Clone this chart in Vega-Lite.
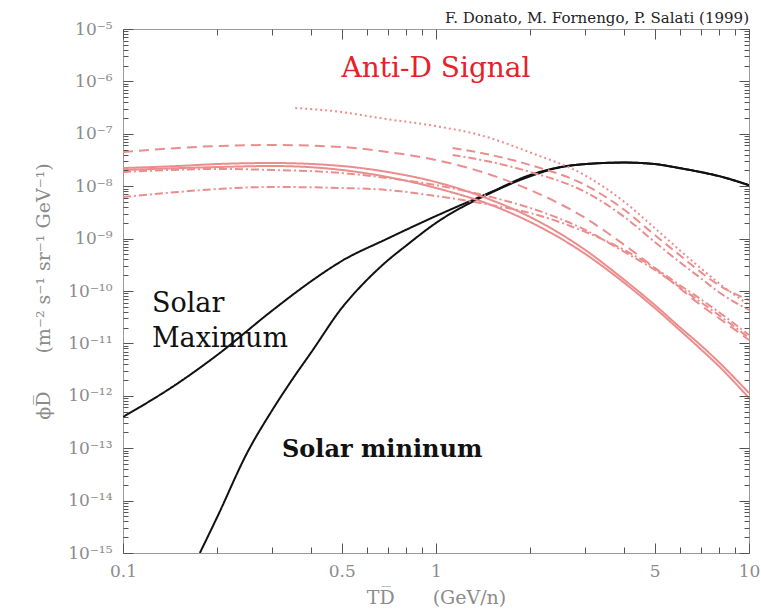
{
  "$schema": "https://vega.github.io/schema/vega-lite/v6.json",
  "width": 626,
  "height": 524,
  "autosize": {"type": "none"},
  "padding": {"left": 123, "top": 29, "right": 12, "bottom": 57},
  "background": "white",
  "config": {"view": {"stroke": "#9a9a9a", "strokeWidth": 1}, "axis": {"ticks": true, "tickColor": "#555555", "tickOpacity": 1, "tickWidth": 1}},
  "title": {"text": "F. Donato, M. Fornengo, P. Salati (1999)", "anchor": "end", "frame": "group", "font": "DejaVu Serif", "fontSize": 15, "fontWeight": "normal", "color": "#222222", "offset": 3, "dy": 9},
  "datasets": {
    "curves": [
      {"s": "max", "T": 0.1, "phi": 3.94e-13}, {"s": "max", "T": 0.15, "phi": 1.75e-12}, {"s": "max", "T": 0.2, "phi": 6.01e-12}, {"s": "max", "T": 0.3, "phi": 4.25e-11}, {"s": "max", "T": 0.4, "phi": 1.55e-10}, {"s": "max", "T": 0.5, "phi": 3.74e-10}, {"s": "max", "T": 0.7, "phi": 1.0e-9}, {"s": "max", "T": 1, "phi": 2.7e-9}, {"s": "max", "T": 1.5, "phi": 7.75e-9}, {"s": "max", "T": 2, "phi": 1.64e-8}, {"s": "max", "T": 2.5, "phi": 2.32e-8}, {"s": "max", "T": 3, "phi": 2.65e-8}, {"s": "max", "T": 4, "phi": 2.83e-8}, {"s": "max", "T": 5, "phi": 2.65e-8}, {"s": "max", "T": 6, "phi": 2.22e-8}, {"s": "max", "T": 7, "phi": 1.87e-8}, {"s": "max", "T": 8, "phi": 1.57e-8}, {"s": "max", "T": 10, "phi": 1.05e-8},
      {"s": "min", "T": 0.176, "phi": 1e-15}, {"s": "min", "T": 0.2, "phi": 4.86e-15}, {"s": "min", "T": 0.25, "phi": 8.45e-14}, {"s": "min", "T": 0.3, "phi": 5.36e-13}, {"s": "min", "T": 0.35, "phi": 2.19e-12}, {"s": "min", "T": 0.4, "phi": 6.85e-12}, {"s": "min", "T": 0.5, "phi": 4.74e-11}, {"s": "min", "T": 0.6, "phi": 1.6e-10}, {"s": "min", "T": 0.7, "phi": 3.8e-10}, {"s": "min", "T": 0.8, "phi": 7.22e-10}, {"s": "min", "T": 1, "phi": 1.99e-9}, {"s": "min", "T": 1.5, "phi": 7.5e-9}, {"s": "min", "T": 2, "phi": 1.55e-8}, {"s": "min", "T": 2.5, "phi": 2.3e-8}, {"s": "min", "T": 3, "phi": 2.64e-8}, {"s": "min", "T": 4, "phi": 2.82e-8}, {"s": "min", "T": 5, "phi": 2.64e-8}, {"s": "min", "T": 6, "phi": 2.21e-8}, {"s": "min", "T": 7, "phi": 1.86e-8}, {"s": "min", "T": 8, "phi": 1.56e-8}, {"s": "min", "T": 10, "phi": 1.04e-8},
      {"s": "A", "T": 0.1, "phi": 4.5e-8}, {"s": "A", "T": 0.15, "phi": 5.36e-8}, {"s": "A", "T": 0.2, "phi": 5.85e-8}, {"s": "A", "T": 0.3, "phi": 6.11e-8}, {"s": "A", "T": 0.5, "phi": 5.6e-8}, {"s": "A", "T": 0.7, "phi": 4.5e-8}, {"s": "A", "T": 1, "phi": 3.16e-8}, {"s": "A", "T": 1.5, "phi": 1.64e-8}, {"s": "A", "T": 2, "phi": 8.46e-9}, {"s": "A", "T": 3, "phi": 2.47e-9}, {"s": "A", "T": 4, "phi": 7.55e-10}, {"s": "A", "T": 5, "phi": 2.75e-10}, {"s": "A", "T": 6, "phi": 1.14e-10}, {"s": "A", "T": 7, "phi": 5.41e-11}, {"s": "A", "T": 8, "phi": 3.05e-11}, {"s": "A", "T": 10, "phi": 1.16e-11},
      {"s": "B", "T": 0.1, "phi": 2.22e-8}, {"s": "B", "T": 0.15, "phi": 2.43e-8}, {"s": "B", "T": 0.2, "phi": 2.65e-8}, {"s": "B", "T": 0.3, "phi": 2.77e-8}, {"s": "B", "T": 0.5, "phi": 2.43e-8}, {"s": "B", "T": 0.7, "phi": 1.87e-8}, {"s": "B", "T": 1, "phi": 1.2e-8}, {"s": "B", "T": 1.5, "phi": 5.46e-9}, {"s": "B", "T": 2, "phi": 2.58e-9}, {"s": "B", "T": 3, "phi": 6.05e-10}, {"s": "B", "T": 4, "phi": 1.62e-10}, {"s": "B", "T": 5, "phi": 5.41e-11}, {"s": "B", "T": 6, "phi": 2.06e-11}, {"s": "B", "T": 7, "phi": 9.31e-12}, {"s": "B", "T": 8, "phi": 4.42e-12}, {"s": "B", "T": 10, "phi": 1.13e-12},
      {"s": "C", "T": 0.1, "phi": 2.04e-8}, {"s": "C", "T": 0.2, "phi": 2.32e-8}, {"s": "C", "T": 0.3, "phi": 2.43e-8}, {"s": "C", "T": 0.5, "phi": 2.04e-8}, {"s": "C", "T": 0.7, "phi": 1.5e-8}, {"s": "C", "T": 1, "phi": 9.24e-9}, {"s": "C", "T": 1.5, "phi": 4.38e-9}, {"s": "C", "T": 2, "phi": 2.07e-9}, {"s": "C", "T": 3, "phi": 5.08e-10}, {"s": "C", "T": 4, "phi": 1.42e-10}, {"s": "C", "T": 5, "phi": 4.74e-11}, {"s": "C", "T": 6, "phi": 1.8e-11}, {"s": "C", "T": 7, "phi": 7.82e-12}, {"s": "C", "T": 8, "phi": 3.71e-12}, {"s": "C", "T": 10, "phi": 9.08e-13},
      {"s": "D", "T": 0.1, "phi": 1.87e-8}, {"s": "D", "T": 0.2, "phi": 2.13e-8}, {"s": "D", "T": 0.3, "phi": 2.04e-8}, {"s": "D", "T": 0.5, "phi": 1.79e-8}, {"s": "D", "T": 0.7, "phi": 1.43e-8}, {"s": "D", "T": 1, "phi": 1.05e-8}, {"s": "D", "T": 1.5, "phi": 6.22e-9}, {"s": "D", "T": 2, "phi": 3.84e-9}, {"s": "D", "T": 3, "phi": 1.46e-9}, {"s": "D", "T": 4, "phi": 5.55e-10}, {"s": "D", "T": 5, "phi": 2.52e-10}, {"s": "D", "T": 6, "phi": 1.19e-10}, {"s": "D", "T": 7, "phi": 6.17e-11}, {"s": "D", "T": 8, "phi": 3.48e-11}, {"s": "D", "T": 10, "phi": 1.27e-11},
      {"s": "E", "T": 0.1, "phi": 6.22e-9}, {"s": "E", "T": 0.15, "phi": 7.75e-9}, {"s": "E", "T": 0.2, "phi": 8.85e-9}, {"s": "E", "T": 0.3, "phi": 9.66e-9}, {"s": "E", "T": 0.5, "phi": 9.24e-9}, {"s": "E", "T": 0.7, "phi": 8.46e-9}, {"s": "E", "T": 1, "phi": 6.5e-9}, {"s": "E", "T": 1.5, "phi": 4.38e-9}, {"s": "E", "T": 2, "phi": 3.08e-9}, {"s": "E", "T": 3, "phi": 1.34e-9}, {"s": "E", "T": 4, "phi": 6.05e-10}, {"s": "E", "T": 5, "phi": 2.75e-10}, {"s": "E", "T": 6, "phi": 1.3e-10}, {"s": "E", "T": 7, "phi": 7.03e-11}, {"s": "E", "T": 8, "phi": 3.97e-11}, {"s": "E", "T": 10, "phi": 1.45e-11},
      {"s": "F", "T": 0.355, "phi": 3.1e-7}, {"s": "F", "T": 0.5, "phi": 2.61e-7}, {"s": "F", "T": 0.66, "phi": 2.0e-7}, {"s": "F", "T": 1, "phi": 1.4e-7}, {"s": "F", "T": 1.38, "phi": 9.5e-8}, {"s": "F", "T": 2, "phi": 4.4e-8}, {"s": "F", "T": 3, "phi": 1.6e-8}, {"s": "F", "T": 4, "phi": 5.0e-9}, {"s": "F", "T": 5, "phi": 1.59e-9}, {"s": "F", "T": 6, "phi": 6.05e-10}, {"s": "F", "T": 7, "phi": 2.75e-10}, {"s": "F", "T": 8, "phi": 1.42e-10}, {"s": "F", "T": 10, "phi": 5.41e-11},
      {"s": "G", "T": 1.13, "phi": 5.36e-8}, {"s": "G", "T": 1.5, "phi": 3.94e-8}, {"s": "G", "T": 2, "phi": 2.54e-8}, {"s": "G", "T": 3, "phi": 1.05e-8}, {"s": "G", "T": 4, "phi": 3.52e-9}, {"s": "G", "T": 5, "phi": 1.17e-9}, {"s": "G", "T": 6, "phi": 4.86e-10}, {"s": "G", "T": 7, "phi": 2.31e-10}, {"s": "G", "T": 8, "phi": 1.3e-10}, {"s": "G", "T": 10, "phi": 6.73e-11},
      {"s": "H", "T": 1.13, "phi": 3.94e-8}, {"s": "H", "T": 1.5, "phi": 2.9e-8}, {"s": "H", "T": 2, "phi": 1.87e-8}, {"s": "H", "T": 3, "phi": 7.75e-9}, {"s": "H", "T": 4, "phi": 2.58e-9}, {"s": "H", "T": 5, "phi": 8.61e-10}, {"s": "H", "T": 6, "phi": 3.57e-10}, {"s": "H", "T": 7, "phi": 1.77e-10}, {"s": "H", "T": 8, "phi": 9.57e-11}, {"s": "H", "T": 10, "phi": 4.34e-11}
    ]
  },
  "layer": [
    {
      "encoding": {
        "x": {
          "field": "T", "type": "quantitative",
          "scale": {"type": "log", "domain": [0.1, 10], "nice": false},
          "axis": {
            "orient": "bottom", "zindex": 2, "ticks": true,
            "values": [0.1, 0.2, 0.3, 0.4, 0.5, 0.6, 0.7, 0.8, 0.9, 1, 2, 3, 4, 5, 6, 7, 8, 9, 10],
            "labelExpr": "indexof([0.1, 0.5, 1, 5, 10], datum.value) >= 0 ? format(datum.value, '~g') : ''",
            "tickSize": {"condition": {"test": "indexof([0.1, 0.5, 1, 5, 10], datum.value) >= 0", "value": -10}, "value": -6},
            "tickColor": "#555555", "tickWidth": 1, "tickOpacity": 1, "domain": false, "grid": false,
            "labelPadding": 20, "labelFont": "DejaVu Serif", "labelFontSize": 17, "labelColor": "#8c8c8c",
            "labelOverlap": false, "labelBound": false, "labelFlush": false,
            "title": "TD̅\u2003\u2003(GeV/n)", "titleFont": "DejaVu Serif", "titleFontSize": 19, "titleFontWeight": "normal", "titleColor": "#8c8c8c", "titlePadding": 5
          }
        },
        "y": {
          "field": "phi", "type": "quantitative",
          "scale": {"type": "log", "domain": [1e-15, 1e-5], "nice": false},
          "axis": {
            "orient": "left", "zindex": 2, "ticks": true,
            "values": [1e-15, 2e-15, 3e-15, 4e-15, 5e-15, 6e-15, 7e-15, 8e-15, 9e-15, 1e-14, 2e-14, 3e-14, 4e-14, 5e-14, 6e-14, 7e-14, 8e-14, 9e-14, 1e-13, 2e-13, 3e-13, 4e-13, 5e-13, 6e-13, 7e-13, 8e-13, 9e-13, 1e-12, 2e-12, 3e-12, 4e-12, 5e-12, 6e-12, 7e-12, 8e-12, 9e-12, 1e-11, 2e-11, 3e-11, 4e-11, 5e-11, 6e-11, 7e-11, 8e-11, 9e-11, 1e-10, 2e-10, 3e-10, 4e-10, 5e-10, 6e-10, 7e-10, 8e-10, 9e-10, 1e-9, 2e-9, 3e-9, 4e-9, 5e-9, 6e-9, 7e-9, 8e-9, 9e-9, 1e-8, 2e-8, 3e-8, 4e-8, 5e-8, 6e-8, 7e-8, 8e-8, 9e-8, 1e-7, 2e-7, 3e-7, 4e-7, 5e-7, 6e-7, 7e-7, 8e-7, 9e-7, 1e-6, 2e-6, 3e-6, 4e-6, 5e-6, 6e-6, 7e-6, 8e-6, 9e-6, 1e-5],
            "labelExpr": "abs(log(datum.value)/LN10 - round(log(datum.value)/LN10)) < 0.01 ? ['10⁻⁵','10⁻⁶','10⁻⁷','10⁻⁸','10⁻⁹','10⁻¹⁰','10⁻¹¹','10⁻¹²','10⁻¹³','10⁻¹⁴','10⁻¹⁵'][round(-log(datum.value)/LN10) - 5] : ''",
            "tickSize": {"condition": {"test": "abs(log(datum.value)/LN10 - round(log(datum.value)/LN10)) < 0.01", "value": -10}, "value": -5},
            "tickColor": "#555555", "tickWidth": 1, "tickOpacity": 1, "domain": false, "grid": false,
            "labelPadding": 21, "labelFont": "DejaVu Serif", "labelFontSize": 17, "labelColor": "#8c8c8c",
            "labelOverlap": false, "labelBound": false, "labelFlush": false,
            "title": "ϕD̅\u2003\u2003(m⁻² s⁻¹ sr⁻¹ GeV⁻¹)", "titleFont": "DejaVu Serif", "titleFontSize": 19, "titleFontWeight": "normal", "titleColor": "#8c8c8c", "titlePadding": 14
          }
        }
      },
      "layer": [
        {
          "data": {"name": "curves"},
          "mark": {"type": "line", "clip": true, "interpolate": "monotone"},
          "encoding": {
            "detail": {"field": "s", "type": "nominal"},
            "color": {"field": "s", "type": "nominal", "legend": null,
              "scale": {"domain": ["max", "min", "A", "B", "C", "D", "E", "F", "G", "H"], "range": ["#111111", "#111111", "#ec8d8d", "#ec8d8d", "#ec8d8d", "#ec8d8d", "#ec8d8d", "#ec8d8d", "#ec8d8d", "#ec8d8d"]}},
            "strokeDash": {"field": "s", "type": "nominal", "legend": null,
              "scale": {"domain": ["max", "min", "A", "B", "C", "D", "E", "F", "G", "H"], "range": [[1, 0], [1, 0], [10, 6], [1, 0], [1, 0], [8, 3, 2, 3], [8, 3, 2, 3], [2, 3], [9, 5], [8, 3, 2, 3]]}},
            "strokeWidth": {"field": "s", "type": "nominal", "legend": null,
              "scale": {"domain": ["max", "min", "A", "B", "C", "D", "E", "F", "G", "H"], "range": [2, 2, 1, 1, 1, 1, 1, 1.2, 1, 1]}}
          }
        },
        {
          "data": {"values": [{"label": "Solar", "T": 0.1237, "phi": 3.97e-11}, {"label": "Maximum", "T": 0.1237, "phi": 8.53e-12}]},
          "mark": {"type": "text", "align": "left", "baseline": "alphabetic", "font": "DejaVu Serif", "fontSize": 27, "color": "#111111"},
          "encoding": {"text": {"field": "label"}}
        },
        {
          "data": {"values": [{"label": "Solar mininum", "T": 0.322, "phi": 6.79e-14}]},
          "mark": {"type": "text", "align": "left", "baseline": "alphabetic", "font": "DejaVu Serif", "fontSize": 24, "fontWeight": "bold", "color": "#111111"},
          "encoding": {"text": {"field": "label"}}
        },
        {
          "data": {"values": [{"label": "Anti-D Signal", "T": 1.0, "phi": 1.21e-6}]},
          "mark": {"type": "text", "align": "center", "baseline": "alphabetic", "font": "DejaVu Serif", "fontSize": 28, "color": "#e8202a"},
          "encoding": {"text": {"field": "label"}}
        }
      ]
    },
    {
      "data": {"name": "curves"},
      "mark": {"type": "point", "opacity": 0},
      "encoding": {
        "x": {
          "field": "T", "type": "quantitative",
          "scale": {"type": "log", "domain": [0.1, 10], "nice": false},
          "axis": {
            "orient": "top", "zindex": 2, "ticks": true,
            "values": [0.1, 0.2, 0.3, 0.4, 0.5, 0.6, 0.7, 0.8, 0.9, 1, 2, 3, 4, 5, 6, 7, 8, 9, 10],
            "labels": false,
            "tickSize": {"condition": {"test": "indexof([0.1, 0.5, 1, 5, 10], datum.value) >= 0", "value": -10}, "value": -6},
            "tickColor": "#555555", "tickWidth": 1, "tickOpacity": 1, "domain": false, "grid": false, "title": null
          }
        },
        "y": {
          "field": "phi", "type": "quantitative",
          "scale": {"type": "log", "domain": [1e-15, 1e-5], "nice": false},
          "axis": {
            "orient": "right", "zindex": 2, "ticks": true,
            "values": [1e-15, 2e-15, 3e-15, 4e-15, 5e-15, 6e-15, 7e-15, 8e-15, 9e-15, 1e-14, 2e-14, 3e-14, 4e-14, 5e-14, 6e-14, 7e-14, 8e-14, 9e-14, 1e-13, 2e-13, 3e-13, 4e-13, 5e-13, 6e-13, 7e-13, 8e-13, 9e-13, 1e-12, 2e-12, 3e-12, 4e-12, 5e-12, 6e-12, 7e-12, 8e-12, 9e-12, 1e-11, 2e-11, 3e-11, 4e-11, 5e-11, 6e-11, 7e-11, 8e-11, 9e-11, 1e-10, 2e-10, 3e-10, 4e-10, 5e-10, 6e-10, 7e-10, 8e-10, 9e-10, 1e-9, 2e-9, 3e-9, 4e-9, 5e-9, 6e-9, 7e-9, 8e-9, 9e-9, 1e-8, 2e-8, 3e-8, 4e-8, 5e-8, 6e-8, 7e-8, 8e-8, 9e-8, 1e-7, 2e-7, 3e-7, 4e-7, 5e-7, 6e-7, 7e-7, 8e-7, 9e-7, 1e-6, 2e-6, 3e-6, 4e-6, 5e-6, 6e-6, 7e-6, 8e-6, 9e-6, 1e-5],
            "labels": false,
            "tickSize": {"condition": {"test": "abs(log(datum.value)/LN10 - round(log(datum.value)/LN10)) < 0.01", "value": -10}, "value": -5},
            "tickColor": "#555555", "tickWidth": 1, "tickOpacity": 1, "domain": false, "grid": false, "title": null
          }
        }
      }
    }
  ],
  "resolve": {"axis": {"x": "independent", "y": "independent"}}
}
